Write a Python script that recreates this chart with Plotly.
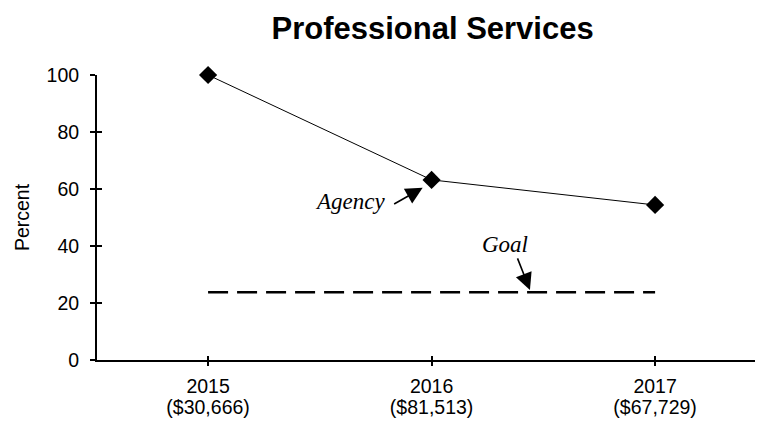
import plotly.graph_objects as go

# ---- data ----
years = [2015, 2016, 2017]
amounts = ["($30,666)", "($81,513)", "($67,729)"]
agency_pct = [100, 63.2, 54.4]
goal_pct = 23.8
y_ticks = [0, 20, 40, 60, 80, 100]

x_range = [years[0] - 0.497, years[-1] + 0.447]
y_range = [0, 100]

TICK_FONT = dict(family="Liberation Sans, Arial, sans-serif", size=19.5, color="black")
ANN_FONT = dict(family="Liberation Serif, Times New Roman, serif", size=23, color="black", style="italic")

fig = go.Figure()

# Agency line
fig.add_trace(go.Scatter(
    x=years, y=agency_pct, mode="lines+markers",
    line=dict(color="black", width=1),
    marker=dict(symbol="diamond", size=14, color="black"),
    cliponaxis=False, showlegend=False, hoverinfo="skip",
))

# Goal dashed line
fig.add_trace(go.Scatter(
    x=[years[0], years[-1]], y=[goal_pct, goal_pct], mode="lines",
    line=dict(color="black", width=2.5, dash="20px,9px"),
    showlegend=False, hoverinfo="skip",
))

# invisible trace for overlay axes (inside tick halves + dollar labels)
fig.add_trace(go.Scatter(
    x=[years[0]], y=[goal_pct], xaxis="x2", yaxis="y2", mode="markers",
    marker=dict(opacity=0), showlegend=False, hoverinfo="skip",
))

fig.update_layout(
    width=757, height=426,
    margin=dict(l=97, r=2, t=75, b=66),
    paper_bgcolor="white", plot_bgcolor="white",
    title=dict(
        text="<b>Professional Services</b>",
        font=dict(family="Liberation Sans, Arial, sans-serif", size=31, color="black"),
        x=0.51, xref="paper", xanchor="center",
        y=1 - 28 / 426, yref="container", yanchor="middle",
    ),
    xaxis=dict(
        range=x_range, tickmode="array", tickvals=years, ticktext=[str(y) for y in years],
        showline=True, linecolor="black", linewidth=2,
        ticks="outside", ticklen=4, tickwidth=1.5, tickcolor="black",
        showgrid=False, zeroline=False, tickfont=TICK_FONT,
        ticklabelstandoff=4,
    ),
    yaxis=dict(
        range=y_range, tickmode="array", tickvals=y_ticks,
        showline=True, linecolor="black", linewidth=2,
        ticks="outside", ticklen=5, tickwidth=2, tickcolor="black",
        showgrid=False, zeroline=False, tickfont=TICK_FONT,
        ticklabelstandoff=7,
        title=dict(text="Percent", font=TICK_FONT, standoff=12),
    ),
    xaxis2=dict(
        range=x_range, overlaying="x", anchor="y2", side="bottom",
        tickmode="array", tickvals=years, ticktext=amounts,
        showticklabels=True, tickfont=TICK_FONT, ticklabelstandoff=33,
        ticks="inside", ticklen=4, tickwidth=1.5, tickcolor="black",
        showline=False, showgrid=False, zeroline=False,
    ),
    yaxis2=dict(
        range=y_range, overlaying="y", anchor="x2", side="left",
        tickmode="array", tickvals=y_ticks, showticklabels=False,
        ticks="inside", ticklen=5, tickwidth=2, tickcolor="black",
        showline=False, showgrid=False, zeroline=False,
    ),
)

# annotations: Agency
fig.add_annotation(
    x=years[1] - 0.04, y=agency_pct[1] - 2.8, xref="x", yref="y",
    text="", showarrow=True, ax=-30, ay=17,
    arrowhead=2, arrowsize=2.1, arrowwidth=1.6, arrowcolor="black",
)
fig.add_annotation(
    x=years[1] - 0.2, y=agency_pct[1] - 7.7, xref="x", yref="y",
    text="Agency", showarrow=False, xanchor="right", yanchor="middle",
    font=ANN_FONT,
)
# annotations: Goal
fig.add_annotation(
    x=years[1] + 0.44, y=goal_pct + 0.8, xref="x", yref="y",
    text="", showarrow=True, ax=-13, ay=-33,
    arrowhead=2, arrowsize=2.1, arrowwidth=1.6, arrowcolor="black",
)
fig.add_annotation(
    x=years[1] + 0.33, y=goal_pct + 16.6, xref="x", yref="y",
    text="Goal", showarrow=False, xanchor="center", yanchor="middle",
    font=ANN_FONT,
)

fig.write_html(
    "out.html",
    config={"displayModeBar": False},
    post_script="document.body.style.margin='0';",
)
